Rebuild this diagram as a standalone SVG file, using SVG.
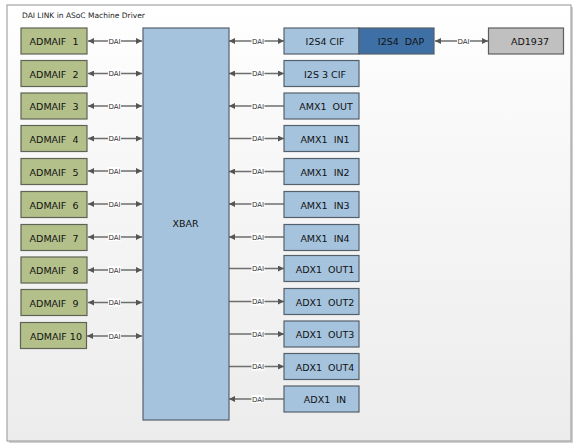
<svg xmlns="http://www.w3.org/2000/svg" width="578" height="445" viewBox="0 0 578 445">
<defs>
<linearGradient id="bg" x1="0" y1="0" x2="0" y2="1">
<stop offset="0" stop-color="#ffffff"/>
<stop offset="0.2" stop-color="#fafafa"/>
<stop offset="1" stop-color="#ececec"/>
</linearGradient>
<marker id="ah" viewBox="0 0 10 10" refX="10" refY="5" markerWidth="9" markerHeight="6" markerUnits="userSpaceOnUse" orient="auto-start-reverse">
<path d="M0,0 L10,5 L0,10 z" fill="#555"/>
</marker>
<style>
text{font-family:"DejaVu Sans","Liberation Sans",sans-serif;white-space:pre}
.lbl{font-size:9.5px;fill:#111;text-anchor:middle}
.green{fill:#b4c08a;stroke:#5f6355;stroke-width:1.2}
.blue{fill:#a6c3dd;stroke:#55606b;stroke-width:1.2}
.dap{fill:#3e70a5;stroke:#55606b;stroke-width:1.2}
.grey{fill:#c0c0c0;stroke:#5e5e5e;stroke-width:1.2}
.ln{stroke:#6e6e6e;stroke-width:1.3;fill:none}
.both{marker-start:url(#ah);marker-end:url(#ah)}
.fwd{marker-end:url(#ah)}
.dbg{fill:#ffffff}
.dai{font-size:7px;fill:#333;text-anchor:middle}
</style>
</defs>
<rect x="9" y="7" width="564" height="436" fill="#d0d0d0"/>
<rect x="7" y="5" width="564" height="436" fill="url(#bg)" stroke="#a6a6a6" stroke-width="1.2"/>
<text x="22" y="18" style="font-size:7.5px;fill:#222">DAI LINK in ASoC Machine Driver</text>

<g id="connectors">
<!-- left side -->
<g>
<line class="ln both" x1="88" y1="41" x2="142" y2="41"/>
<line class="ln both" x1="88" y1="73.5" x2="142" y2="73.5"/>
<line class="ln both" x1="88" y1="106" x2="142" y2="106"/>
<line class="ln both" x1="88" y1="138.5" x2="142" y2="138.5"/>
<line class="ln both" x1="88" y1="171" x2="142" y2="171"/>
<line class="ln both" x1="88" y1="204" x2="142" y2="204"/>
<line class="ln both" x1="88" y1="237" x2="142" y2="237"/>
<line class="ln both" x1="88" y1="270" x2="142" y2="270"/>
<line class="ln both" x1="88" y1="302.5" x2="142" y2="302.5"/>
<line class="ln both" x1="87" y1="336" x2="142" y2="336"/>
</g>
<!-- right side -->
<g>
<line class="ln both" x1="229" y1="41" x2="284" y2="41"/>
<line class="ln both" x1="229" y1="73.5" x2="284" y2="73.5"/>
<line class="ln fwd" x1="284" y1="106" x2="229" y2="106"/>
<line class="ln fwd" x1="229" y1="138.5" x2="284" y2="138.5"/>
<line class="ln fwd" x1="284" y1="171.5" x2="229" y2="171.5"/>
<line class="ln fwd" x1="284" y1="204" x2="229" y2="204"/>
<line class="ln fwd" x1="284" y1="237" x2="229" y2="237"/>
<line class="ln fwd" x1="229" y1="268.5" x2="284" y2="268.5"/>
<line class="ln fwd" x1="229" y1="301.5" x2="284" y2="301.5"/>
<line class="ln fwd" x1="229" y1="334" x2="284" y2="334"/>
<line class="ln fwd" x1="229" y1="366.5" x2="284" y2="366.5"/>
<line class="ln fwd" x1="284" y1="399" x2="229" y2="399"/>
<line class="ln both" x1="435" y1="41" x2="488" y2="41"/>
</g>
<!-- DAI labels -->
<g>
<rect class="dbg" x="108" y="37" width="13" height="8"/><text class="dai" x="114.5" y="43.5">DAI</text>
<rect class="dbg" x="108" y="69.5" width="13" height="8"/><text class="dai" x="114.5" y="76">DAI</text>
<rect class="dbg" x="108" y="102" width="13" height="8"/><text class="dai" x="114.5" y="108.5">DAI</text>
<rect class="dbg" x="108" y="134.5" width="13" height="8"/><text class="dai" x="114.5" y="141">DAI</text>
<rect class="dbg" x="108" y="167" width="13" height="8"/><text class="dai" x="114.5" y="173.5">DAI</text>
<rect class="dbg" x="108" y="200" width="13" height="8"/><text class="dai" x="114.5" y="206.5">DAI</text>
<rect class="dbg" x="108" y="233" width="13" height="8"/><text class="dai" x="114.5" y="239.5">DAI</text>
<rect class="dbg" x="108" y="266" width="13" height="8"/><text class="dai" x="114.5" y="272.5">DAI</text>
<rect class="dbg" x="108" y="298.5" width="13" height="8"/><text class="dai" x="114.5" y="305">DAI</text>
<rect class="dbg" x="108" y="332" width="13" height="8"/><text class="dai" x="114.5" y="338.5">DAI</text>

<rect class="dbg" x="251.5" y="37" width="13" height="8"/><text class="dai" x="258" y="43.5">DAI</text>
<rect class="dbg" x="251.5" y="69.5" width="13" height="8"/><text class="dai" x="258" y="76">DAI</text>
<rect class="dbg" x="251.5" y="102" width="13" height="8"/><text class="dai" x="258" y="108.5">DAI</text>
<rect class="dbg" x="251.5" y="134.5" width="13" height="8"/><text class="dai" x="258" y="141">DAI</text>
<rect class="dbg" x="251.5" y="167.5" width="13" height="8"/><text class="dai" x="258" y="174">DAI</text>
<rect class="dbg" x="251.5" y="200" width="13" height="8"/><text class="dai" x="258" y="206.5">DAI</text>
<rect class="dbg" x="251.5" y="233" width="13" height="8"/><text class="dai" x="258" y="239.5">DAI</text>
<rect class="dbg" x="251.5" y="264.5" width="13" height="8"/><text class="dai" x="258" y="271">DAI</text>
<rect class="dbg" x="251.5" y="297.5" width="13" height="8"/><text class="dai" x="258" y="304">DAI</text>
<rect class="dbg" x="251.5" y="330" width="13" height="8"/><text class="dai" x="258" y="336.5">DAI</text>
<rect class="dbg" x="251.5" y="362.5" width="13" height="8"/><text class="dai" x="258" y="369">DAI</text>
<rect class="dbg" x="251.5" y="395" width="13" height="8"/><text class="dai" x="258" y="401.5">DAI</text>

<rect class="dbg" x="457" y="37" width="13" height="8"/><text class="dai" x="463.5" y="43.5">DAI</text>
</g>
</g>

<g id="admaif1"><rect class="green" x="21" y="28" width="66" height="26"/><text class="lbl" x="54" y="45">ADMAIF  1</text></g>
<g id="admaif2"><rect class="green" x="21" y="60.5" width="66" height="26"/><text class="lbl" x="54" y="77.5">ADMAIF  2</text></g>
<g id="admaif3"><rect class="green" x="21" y="93" width="66" height="26"/><text class="lbl" x="54" y="110">ADMAIF  3</text></g>
<g id="admaif4"><rect class="green" x="21" y="125.5" width="66" height="26"/><text class="lbl" x="54" y="142.5">ADMAIF  4</text></g>
<g id="admaif5"><rect class="green" x="21" y="158.5" width="66" height="26"/><text class="lbl" x="54" y="175.5">ADMAIF  5</text></g>
<g id="admaif6"><rect class="green" x="21" y="191.5" width="66" height="26"/><text class="lbl" x="54" y="208.5">ADMAIF  6</text></g>
<g id="admaif7"><rect class="green" x="21" y="224.5" width="66" height="26"/><text class="lbl" x="54" y="241.5">ADMAIF  7</text></g>
<g id="admaif8"><rect class="green" x="21" y="257" width="66" height="26"/><text class="lbl" x="54" y="274">ADMAIF  8</text></g>
<g id="admaif9"><rect class="green" x="21" y="289.5" width="66" height="26"/><text class="lbl" x="54" y="306.5">ADMAIF  9</text></g>
<g id="admaif10"><rect class="green" x="20.5" y="322.5" width="66" height="26"/><text class="lbl" x="56" y="339.5">ADMAIF 10</text></g>

<g id="xbar"><rect class="blue" x="143" y="28" width="86" height="392"/><text class="lbl" x="185.5" y="227">XBAR</text></g>

<g id="i2s4cif"><rect class="blue" x="284" y="28" width="75" height="26"/><text class="lbl" x="325" y="45">I2S4 CIF</text></g>
<g id="i2s4dap"><rect class="dap" x="359" y="28" width="75" height="26"/><text class="lbl" x="401" y="45">I2S4  DAP</text></g>
<g id="ad1937"><rect class="grey" x="488.5" y="28" width="75" height="26"/><text class="lbl" x="530" y="45">AD1937</text></g>
<g id="i2s3cif"><rect class="blue" x="284" y="60.5" width="75" height="26"/><text class="lbl" x="325" y="77.5">I2S 3 CIF</text></g>
<g id="amx1out"><rect class="blue" x="284" y="93" width="75" height="26"/><text class="lbl" x="326" y="110">AMX1  OUT</text></g>
<g id="amx1in1"><rect class="blue" x="284" y="125.5" width="75" height="26"/><text class="lbl" x="325" y="142.5">AMX1  IN1</text></g>
<g id="amx1in2"><rect class="blue" x="284" y="158.5" width="75" height="26"/><text class="lbl" x="325" y="175.5">AMX1  IN2</text></g>
<g id="amx1in3"><rect class="blue" x="284" y="191.5" width="75" height="26"/><text class="lbl" x="325" y="208.5">AMX1  IN3</text></g>
<g id="amx1in4"><rect class="blue" x="284" y="224.5" width="75" height="26"/><text class="lbl" x="325" y="241.5">AMX1  IN4</text></g>
<g id="adx1out1"><rect class="blue" x="284" y="255.5" width="75" height="26"/><text class="lbl" x="325" y="272.5">ADX1  OUT1</text></g>
<g id="adx1out2"><rect class="blue" x="284" y="288.5" width="75" height="26"/><text class="lbl" x="325" y="305.5">ADX1  OUT2</text></g>
<g id="adx1out3"><rect class="blue" x="284" y="321" width="75" height="26"/><text class="lbl" x="325" y="338">ADX1  OUT3</text></g>
<g id="adx1out4"><rect class="blue" x="284" y="353.5" width="75" height="26"/><text class="lbl" x="325" y="370.5">ADX1  OUT4</text></g>
<g id="adx1in"><rect class="blue" x="284" y="386" width="75" height="26"/><text class="lbl" x="325" y="403">ADX1  IN</text></g>
</svg>
